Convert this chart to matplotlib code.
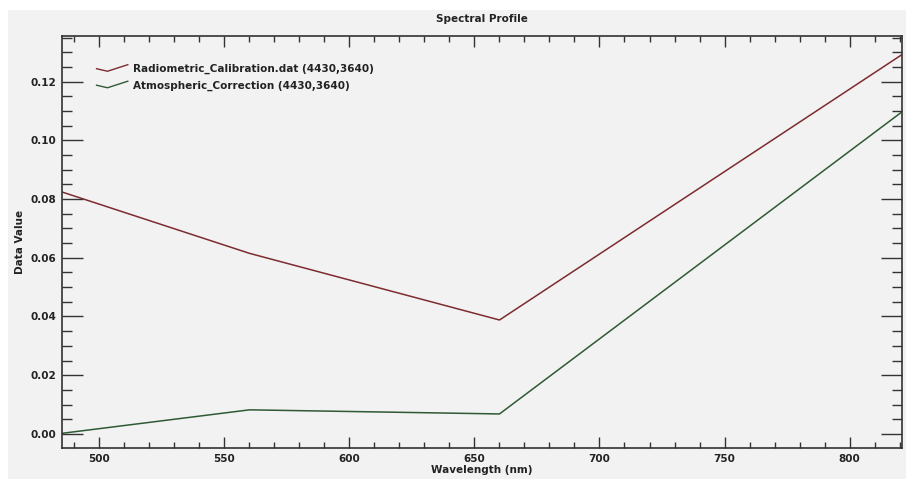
import matplotlib.pyplot as plt
from matplotlib.ticker import MultipleLocator
from matplotlib.legend_handler import HandlerLine2D
from matplotlib.lines import Line2D
from matplotlib.patches import Rectangle

# wavelengths (nm) and values
wavelength = [485, 560, 660, 821]
radiometric = [0.0824, 0.0615, 0.0388, 0.1292]
atmospheric = [0.0002, 0.0082, 0.0068, 0.1097]

labels = ['Radiometric_Calibration.dat (4430,3640)', 'Atmospheric_Correction (4430,3640)']
colors = ['#7d2b2e', '#2f5a33']


# little check-shaped legend glyph like the ENVI profile window
class CheckHandler(HandlerLine2D):
    def create_artists(self, legend, orig, xd, yd, w, h, fontsize, trans):
        xs = [-xd, -xd + 0.35 * w, -xd + w]
        ys = [-yd + 0.45 * h, -yd + 0.1 * h, -yd + 1.0 * h]
        ln = Line2D(xs, ys, color=orig.get_color(), lw=1.0, transform=trans)
        return [ln]


bg = '#f2f2f2'
fig = plt.figure(figsize=(9.06, 4.79), dpi=100, facecolor='white')
fig.patches.append(Rectangle((8 / 906, 0), 1 - 8 / 906, 1 - 10 / 479, transform=fig.transFigure,
                             facecolor=bg, edgecolor='none', zorder=-10))
ax = fig.add_axes([0.0684, 0.0647, 0.9272, 0.86])
ax.set_facecolor(bg)

ax.plot(wavelength, radiometric, color=colors[0], lw=1.1, label=labels[0])
ax.plot(wavelength, atmospheric, color=colors[1], lw=1.1, label=labels[1])

ax.set_xlim(485, 821)
ax.set_ylim(-0.0048, 0.1355)
ax.xaxis.set_major_locator(MultipleLocator(50))
ax.xaxis.set_minor_locator(MultipleLocator(10))
ax.yaxis.set_major_locator(MultipleLocator(0.02))
ax.yaxis.set_minor_locator(MultipleLocator(0.005))
ax.yaxis.set_major_formatter(plt.FormatStrFormatter('%.2f'))

ax.tick_params(axis='both', which='both', direction='in', top=True, right=True,
               color='#333333', width=1.0, labelsize=7.5, pad=4)
ax.tick_params(axis='y', which='major', length=15)
ax.tick_params(axis='y', which='minor', length=7)
ax.tick_params(axis='x', which='major', length=8)
ax.tick_params(axis='x', which='minor', length=4)
for lab in ax.get_xticklabels() + ax.get_yticklabels():
    lab.set_fontweight('bold')
    lab.set_color('#222222')
for s in ax.spines.values():
    s.set_linewidth(1.2)
    s.set_color('#333333')

ax.set_title('Spectral Profile', fontsize=7.5, fontweight='bold', pad=10, color='#222222')
ax.set_xlabel('Wavelength (nm)', fontsize=7.5, fontweight='bold', labelpad=1, color='#222222')
ax.set_ylabel('Data Value', fontsize=7.5, fontweight='bold', labelpad=4, color='#222222')

leg = ax.legend(loc='upper left', bbox_to_anchor=(0.03, 0.955), frameon=False,
                fontsize=7.5, handlelength=3.0, labelspacing=0.6, handletextpad=0.5,
                handler_map={Line2D: CheckHandler()})
for t in leg.get_texts():
    t.set_fontweight('bold')
    t.set_color('#222222')

fig.savefig('out.png', dpi=100, facecolor='white')
